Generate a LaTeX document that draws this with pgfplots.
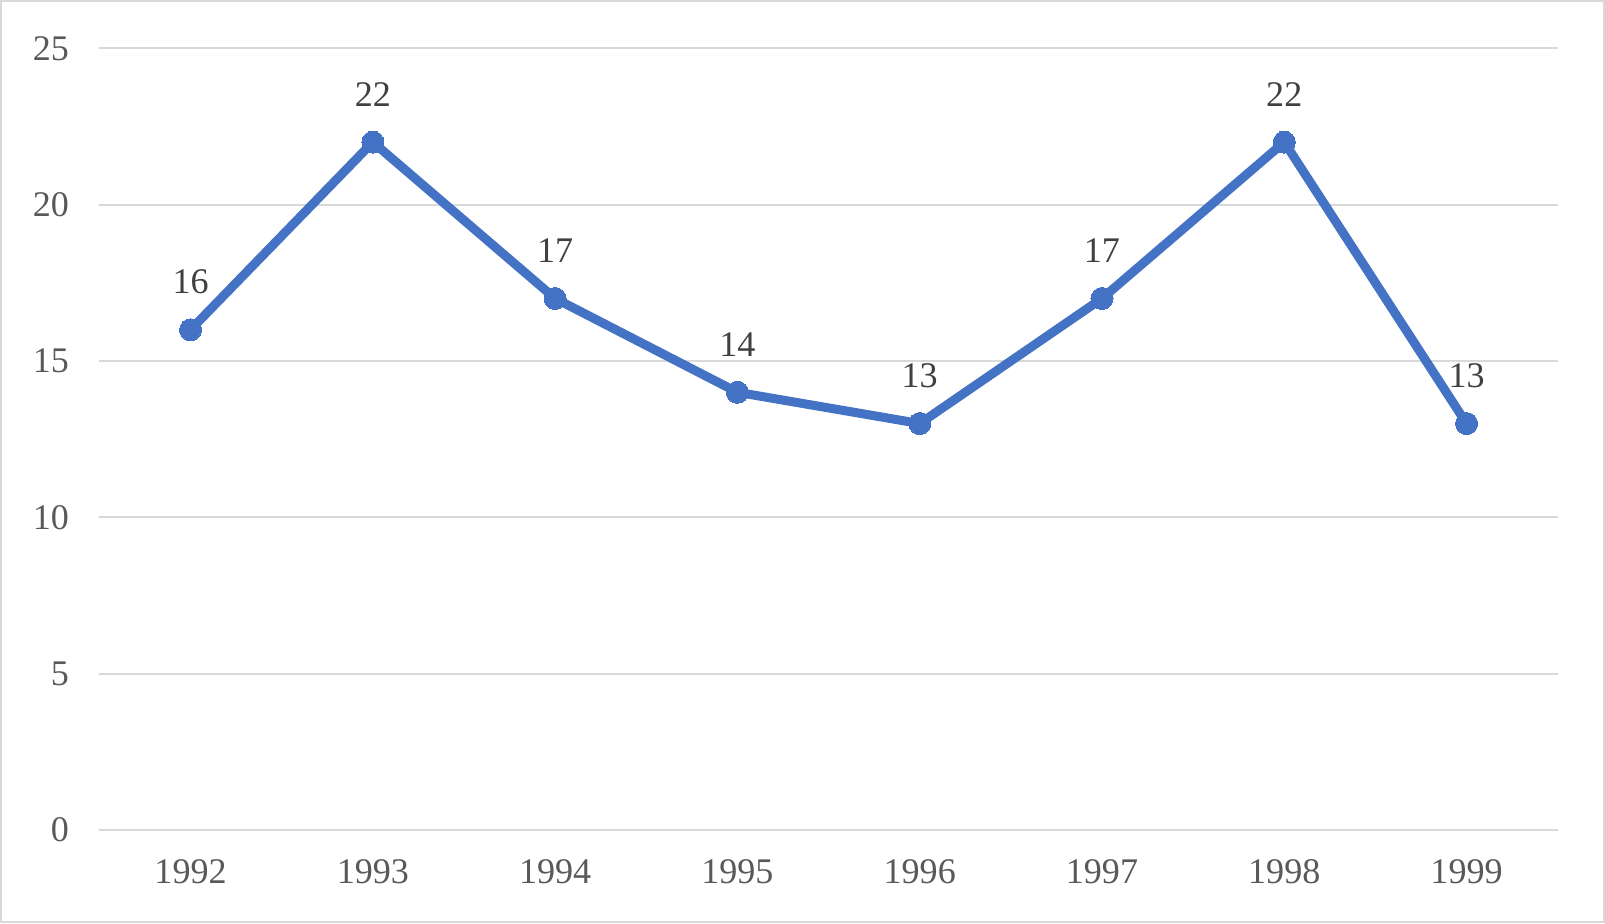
\documentclass[border=0pt]{standalone}
\usepackage{fontspec}
\setmainfont{Liberation Serif}
\usepackage{pgfplots}
\pgfplotsset{compat=1.18}

\definecolor{excelblue}{HTML}{4472C4}
\definecolor{gridgray}{HTML}{D9D9D9}
\definecolor{ticktext}{HTML}{595959}
\definecolor{labeltext}{HTML}{404040}

\begin{document}
\begin{tikzpicture}
\begin{axis}[
  scale only axis,
  width=727.5pt, height=390pt,
  xmin=-0.5, xmax=7.5,
  ymin=0, ymax=25,
  xtick={0,...,7},
  xticklabels={1992,1993,1994,1995,1996,1997,1998,1999},
  ytick={0,5,...,25},
  ymajorgrids,
  grid style={gridgray, line width=1.1pt},
  axis line style={draw=none},
  major tick style={draw=none},
  tick label style={font=\fontsize{18}{22}\selectfont, text=ticktext, inner sep=0pt},
  yticklabel style={anchor=east, xshift=-15pt},
  xticklabel style={anchor=north, yshift=-14.5pt},
  /pgf/number format/assume math mode=true,
  clip=false,
]
\coordinate (sw) at (rel axis cs:0,0);
\coordinate (ne) at (rel axis cs:1,1);
\addplot[excelblue, line width=4.5pt, mark=*, mark size=5.5pt,
  mark options={fill=excelblue, draw=excelblue, line width=0pt},
  nodes near coords,
  every node near coord/.style={anchor=south, inner sep=0pt, yshift=18pt,
    font=\fontsize{18}{22}\selectfont, text=labeltext},
] coordinates {
  (0,16)(1,22)(2,17)(3,14)(4,13)(5,17)(6,22)(7,13)
};
\end{axis}
\draw[gridgray, line width=1.2pt] ([xshift=-49pt,yshift=-46pt]sw) rectangle ([xshift=23pt,yshift=23.5pt]ne);
\end{tikzpicture}
\end{document}
